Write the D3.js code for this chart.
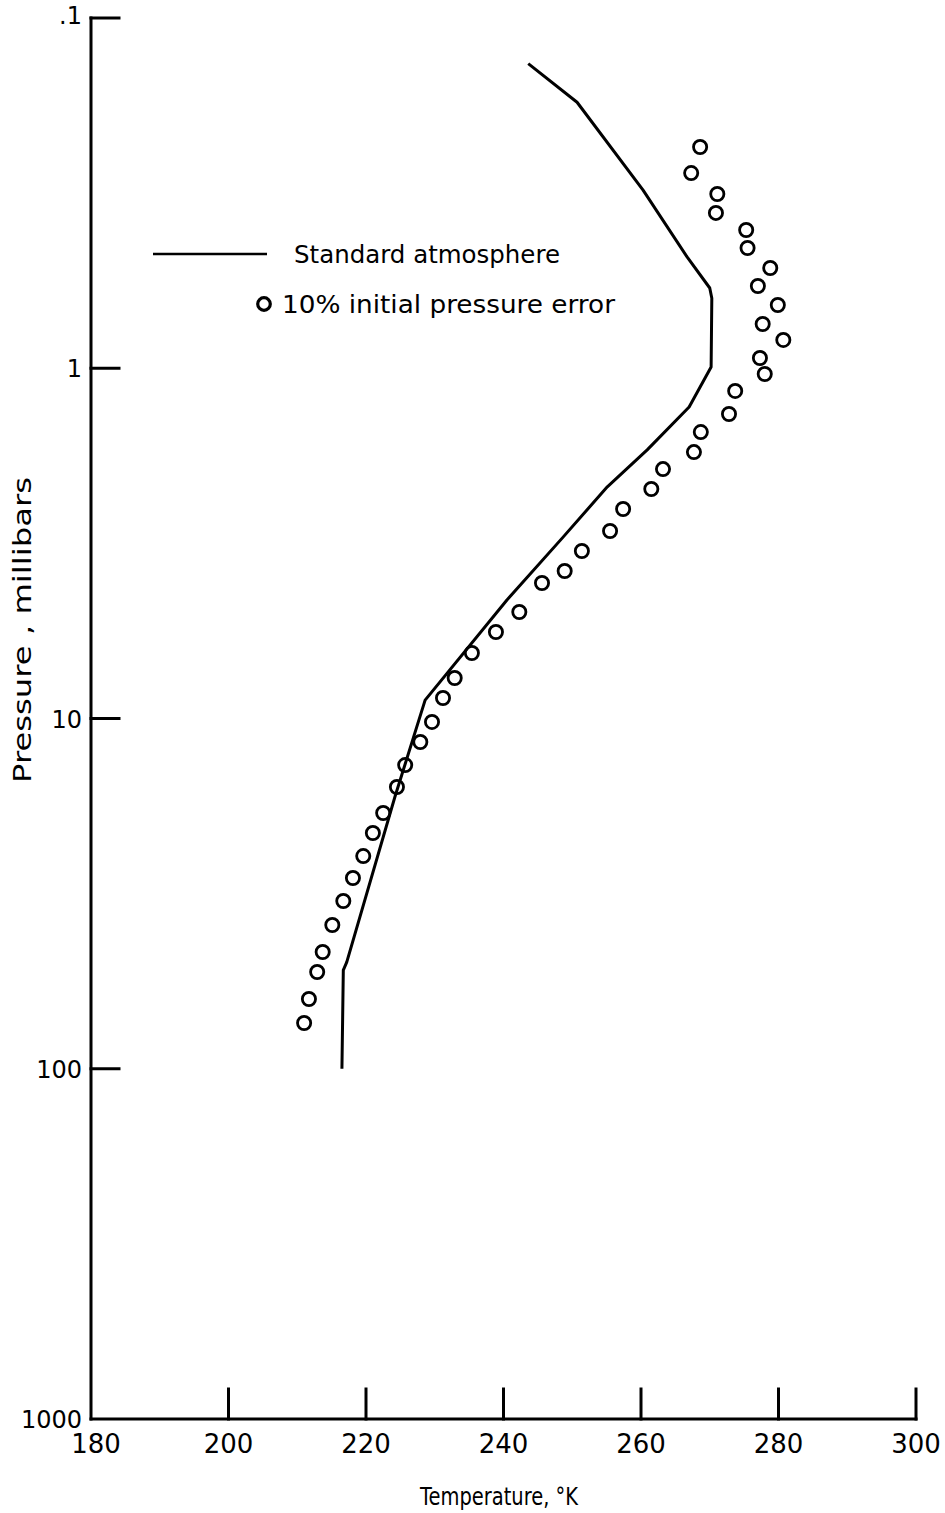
<!DOCTYPE html>
<html>
<head>
<meta charset="utf-8">
<script src="https://cdn.jsdelivr.net/npm/d3@7"></script>
<style>
  html, body { margin: 0; padding: 0; background: #fff; }
  svg text { font-family: "DejaVu Sans", "Liberation Sans", sans-serif; fill: #000; }
</style>
</head>
<body>
<svg id="chart" width="945" height="1513"></svg>
<script>
// Standard atmosphere profile (temperature K vs pressure mb)
const stdTemp     = [243.6, 250.7, 260.3, 266.7, 270.0, 270.3, 270.2, 267.0, 260.9, 255.1, 248.7, 240.5, 228.6, 224.2, 217.2, 216.7, 216.5];
const stdPressure = [0.135, 0.174, 0.310, 0.481, 0.590, 0.631, 0.992, 1.29, 1.71, 2.18, 3.03, 4.59, 8.86, 16.75, 49.6, 52.3, 100];

// Retrieved profile with a 10% initial pressure error
const errTemp = [268.6, 267.3, 271.1, 270.9, 275.3, 275.5, 278.8, 277.0, 279.9, 277.7, 280.7, 277.3, 278.0,
                 273.7, 272.8, 268.7, 267.7, 263.2, 261.5, 257.4, 255.5, 251.4, 248.9, 245.6, 242.3, 238.9,
                 235.4, 232.9, 231.2, 229.6, 227.9, 225.7, 224.5, 222.5, 221.0, 219.6, 218.1, 216.7, 215.1,
                 213.7, 212.9, 211.7, 211.0];
const errPressure = [0.2335, 0.2771, 0.3181, 0.3602, 0.4030, 0.4536, 0.5174, 0.5824, 0.6597, 0.7475, 0.8303, 0.9347, 1.0385,
                     1.161, 1.351, 1.521, 1.735, 1.940, 2.212, 2.523, 2.915, 3.325, 3.792, 4.104, 4.965, 5.662,
                     6.501, 7.661, 8.741, 10.23, 11.67, 13.58, 15.69, 18.61, 21.23, 24.70, 28.54, 33.20, 38.87,
                     46.42, 52.94, 63.22, 74.03];

// Axis ticks
const xTicks      = [180, 200, 220, 240, 260, 280, 300];
const yTicks      = [0.1, 1, 10, 100, 1000];
const yTickLabels = [".1", "1", "10", "100", "1000"];

const svg = d3.select("#chart");

const x = d3.scaleLinear().domain([180, 300]).range([91, 916]);
const y = d3.scaleLog().domain([0.1, 1000]).range([18, 1419]);

const ink = "#000";

// Frame: left and bottom axes
const axes = svg.append("g").attr("stroke", ink).attr("stroke-width", 3).attr("fill", "none")
  .attr("stroke-linecap", "square");
axes.append("line").attr("x1", x(180)).attr("x2", x(180)).attr("y1", y(0.1)).attr("y2", y(1000));
axes.append("line").attr("x1", x(180)).attr("x2", x(300)).attr("y1", y(1000)).attr("y2", y(1000));

// Pressure ticks point inward from the left axis
axes.selectAll(".ytick").data(yTicks.filter(d => d < 1000)).join("line")
  .attr("x1", x(180)).attr("x2", x(180) + 28)
  .attr("y1", d => y(d)).attr("y2", d => y(d));

// Temperature ticks point up from the bottom axis
axes.selectAll(".xtick").data(xTicks.filter(d => d > 180)).join("line")
  .attr("x1", d => x(d)).attr("x2", d => x(d))
  .attr("y1", y(1000)).attr("y2", y(1000) - 30);

// Tick labels
svg.append("g").selectAll("text").data(yTicks).join("text")
  .attr("x", 82)
  .attr("y", (d, i) => y(d) + (i === 0 ? 6 : 9))
  .attr("text-anchor", "end")
  .attr("font-size", 24)
  .text((d, i) => yTickLabels[i]);

svg.append("g").selectAll("text").data(xTicks).join("text")
  .attr("x", d => d === 180 ? x(d) + 5 : x(d))
  .attr("y", 1453)
  .attr("text-anchor", "middle")
  .attr("font-size", 26)
  .text(d => d);

// Axis titles
svg.append("text")
  .attr("x", 499).attr("y", 1505)
  .attr("text-anchor", "middle")
  .attr("font-size", 24)
  .attr("textLength", 158).attr("lengthAdjust", "spacingAndGlyphs")
  .text("Temperature, °K");

svg.append("text")
  .attr("transform", "translate(31,630) rotate(-90)")
  .attr("text-anchor", "middle")
  .attr("font-size", 24)
  .attr("textLength", 306).attr("lengthAdjust", "spacingAndGlyphs")
  .text("Pressure , millibars");

// Standard atmosphere line
const line = d3.line().x(d => x(d[0])).y(d => y(d[1]));
svg.append("path")
  .datum(stdTemp.map((t, i) => [t, stdPressure[i]]))
  .attr("d", line)
  .attr("fill", "none")
  .attr("stroke", ink)
  .attr("stroke-width", 3)
  .attr("stroke-linejoin", "round");

// Perturbed profile as open circles
svg.append("g").selectAll("circle")
  .data(errTemp.map((t, i) => [t, errPressure[i]]))
  .join("circle")
  .attr("cx", d => x(d[0]))
  .attr("cy", d => y(d[1]))
  .attr("r", 6.6)
  .attr("fill", "none")
  .attr("stroke", ink)
  .attr("stroke-width", 2.8);

// Legend
const legend = svg.append("g");
legend.append("line")
  .attr("x1", 153).attr("x2", 267).attr("y1", 254).attr("y2", 254)
  .attr("stroke", ink).attr("stroke-width", 2.5);
legend.append("text")
  .attr("x", 294).attr("y", 263)
  .attr("font-size", 24)
  .attr("textLength", 266).attr("lengthAdjust", "spacingAndGlyphs")
  .text("Standard atmosphere");
legend.append("circle")
  .attr("cx", 264).attr("cy", 304).attr("r", 6.3)
  .attr("fill", "none").attr("stroke", ink).attr("stroke-width", 3.2);
legend.append("text")
  .attr("x", 282).attr("y", 313)
  .attr("font-size", 24)
  .attr("textLength", 333).attr("lengthAdjust", "spacingAndGlyphs")
  .text("10% initial pressure error");
</script>
</body>
</html>
